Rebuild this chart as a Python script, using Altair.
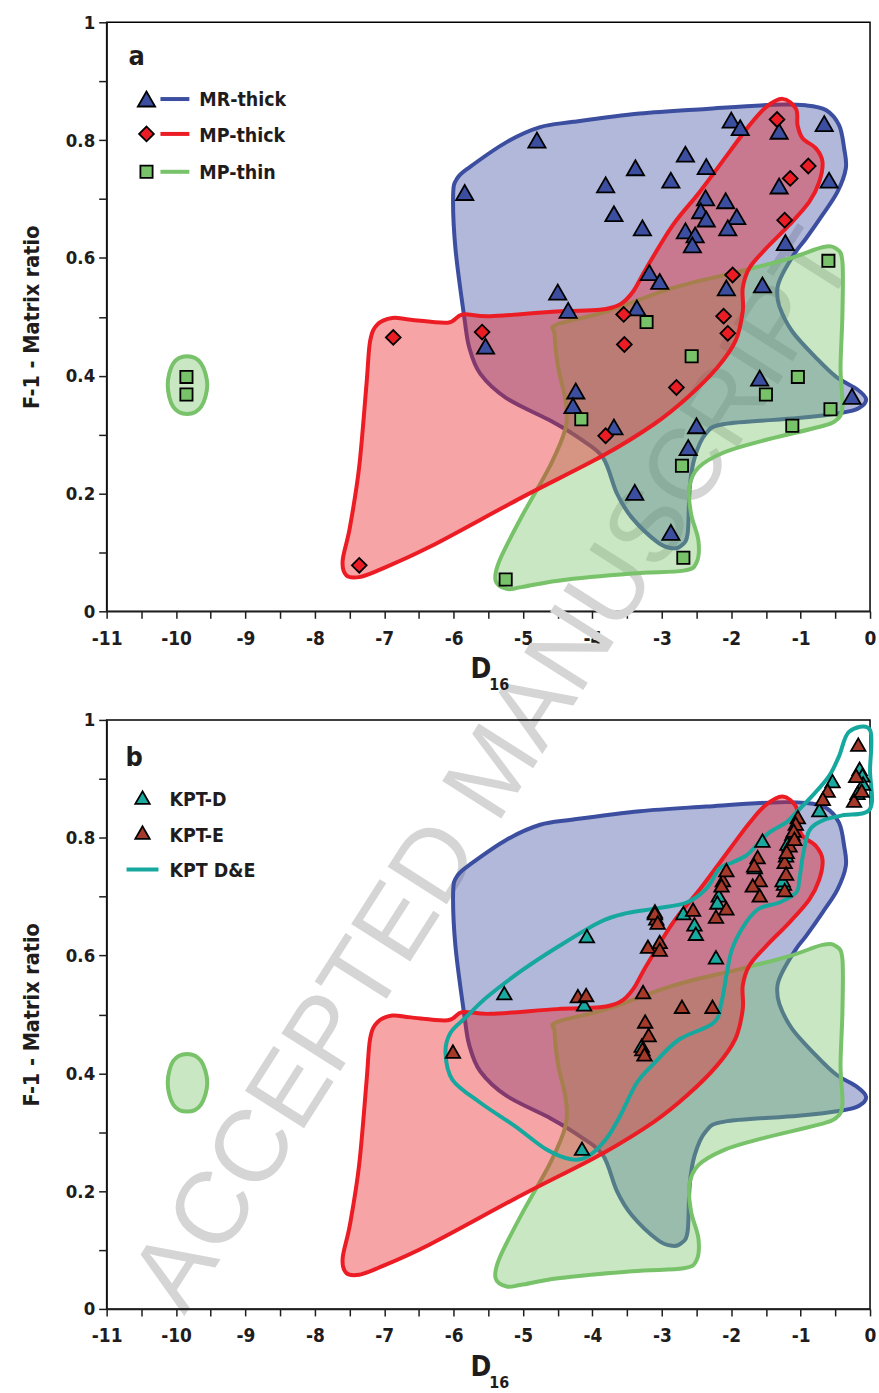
import math
import altair as alt
import pandas as pd

FONT = "'Liberation Sans Narrow', 'DejaVu Sans Condensed', 'Roboto Condensed', 'Liberation Sans', sans-serif"
INK = "#1f1c1d"

# ---------------- panel (a) samples ----------------
mr_thick_x = [-4.80, -5.84, -2.00, -1.87, -1.31, -0.66, -2.66, -2.36, -3.38, -2.87,
              -3.81, -1.31, -0.59, -3.69, -3.28, -2.37, -2.08, -2.44, -2.36, -1.92,
              -2.05, -2.66, -2.52, -2.56, -1.22, -3.18, -3.03, -1.55, -2.07, -4.50,
              -4.35, -3.36, -5.54, -4.24, -4.28, -3.69, -2.50, -2.62, -3.39, -2.87,
              -1.59, -0.26]
mr_thick_y = [0.800, 0.711, 0.834, 0.821, 0.815, 0.828, 0.776, 0.755, 0.753, 0.732,
              0.724, 0.722, 0.732, 0.675, 0.651, 0.702, 0.697, 0.680, 0.666, 0.670,
              0.651, 0.646, 0.639, 0.622, 0.626, 0.575, 0.560, 0.554, 0.549, 0.542,
              0.511, 0.515, 0.450, 0.374, 0.349, 0.313, 0.315, 0.278, 0.202, 0.134,
              0.396, 0.365]

mp_thick_x = [-1.34, -0.89, -1.15, -1.23, -1.98, -3.55, -2.11, -2.05, -3.54, -5.59,
              -6.87, -7.36, -3.81, -2.79]
mp_thick_y = [0.835, 0.756, 0.735, 0.664, 0.571, 0.504, 0.501, 0.472, 0.453, 0.474,
              0.465, 0.078, 0.298, 0.380]

mp_thin_x = [-0.60, -3.22, -2.57, -4.16, -1.04, -1.50, -0.57, -1.12, -2.71, -2.69,
             -5.25, -9.85, -9.85]
mp_thin_y = [0.595, 0.491, 0.433, 0.326, 0.398, 0.368, 0.343, 0.315, 0.247, 0.091,
             0.054, 0.398, 0.368]

# ---------------- panel (b) samples ----------------
kpt_d_x = [-5.27, -4.15, -4.08, -4.12, -3.29, -3.10, -2.69, -2.53, -2.51, -2.22,
           -2.18, -2.20, -1.55, -1.66, -1.21, -1.24, -1.12, -1.19, -1.26, -0.54,
           -0.73, -0.15, -0.11, -0.10, -0.18]
kpt_d_y = [0.536, 0.272, 0.633, 0.517, 0.447, 0.675, 0.672, 0.653, 0.637, 0.597,
           0.702, 0.690, 0.795, 0.750, 0.770, 0.722, 0.807, 0.790, 0.728, 0.896,
           0.847, 0.917, 0.906, 0.892, 0.876]

kpt_e_x = [-6.01, -4.21, -4.09, -3.27, -3.24, -3.19, -3.28, -3.25, -2.71, -2.27,
           -3.08, -3.10, -3.06, -3.20, -3.03, -3.03, -2.55, -2.12, -2.07, -2.14,
           -2.07, -2.22, -1.62, -1.67, -1.59, -1.69, -1.59, -1.04, -1.07, -1.10,
           -1.16, -1.23, -1.21, -1.23, -1.20, -1.09, -0.61, -0.68, -0.17, -0.23,
           -0.20, -0.12]
kpt_e_y = [0.437, 0.531, 0.533, 0.538, 0.488, 0.465, 0.441, 0.432, 0.513, 0.513,
           0.663, 0.672, 0.656, 0.615, 0.623, 0.610, 0.678, 0.728, 0.745, 0.719,
           0.680, 0.666, 0.767, 0.753, 0.728, 0.719, 0.702, 0.835, 0.824, 0.812,
           0.787, 0.759, 0.739, 0.711, 0.776, 0.798, 0.880, 0.866, 0.958, 0.863,
           0.905, 0.880]

# ---------------- field outlines (shared by both panels) ----------------
mr_hull_x = [-6.007, -5.949, -5.758, -5.231, -4.753, -4.275, -3.317, -2.359, -1.403, -0.923,
             -0.636, -0.445, -0.373, -0.349, -0.470, -0.685, -0.923, -1.067, -1.264, -1.335,
             -1.307, -1.120, -0.775, -0.488, -0.187, -0.057, -0.158, -0.402, -1.034, -2.096,
             -2.369, -2.527, -2.599, -2.628, -2.714, -2.843, -3.059, -3.432, -3.647, -3.848,
             -4.179, -4.595, -5.241, -5.615, -5.773, -5.844, -5.974]
mr_hull_y = [0.707, 0.735, 0.755, 0.797, 0.822, 0.831, 0.845, 0.853, 0.860, 0.859,
             0.851, 0.825, 0.786, 0.752, 0.712, 0.673, 0.633, 0.611, 0.572, 0.548,
             0.518, 0.475, 0.430, 0.398, 0.377, 0.360, 0.345, 0.337, 0.328, 0.318,
             0.301, 0.261, 0.210, 0.132, 0.112, 0.107, 0.117, 0.159, 0.200, 0.261,
             0.293, 0.323, 0.362, 0.403, 0.447, 0.497, 0.616]

mpk_hull_x = [-1.259, -1.067, -1.044, -0.972, -0.780, -0.685, -0.732, -0.876, -1.163, -1.498,
              -1.738, -1.834, -1.834, -1.939, -2.206, -2.631, -3.109, -3.853, -5.023, -6.351,
              -7.097, -7.362, -7.546, -7.599, -7.494, -7.362, -7.256, -7.203, -7.097, -6.883,
              -6.617, -6.086, -5.873, -5.471, -4.513, -3.891, -3.604, -3.413, -3.221, -2.839,
              -2.455, -2.025, -1.738, -1.498]
mpk_hull_y = [0.870, 0.853, 0.825, 0.803, 0.786, 0.763, 0.729, 0.695, 0.656, 0.616,
              0.583, 0.549, 0.509, 0.459, 0.413, 0.363, 0.318, 0.264, 0.193, 0.109,
              0.069, 0.058, 0.061, 0.086, 0.143, 0.244, 0.385, 0.459, 0.487, 0.498,
              0.495, 0.490, 0.504, 0.501, 0.509, 0.512, 0.521, 0.543, 0.583, 0.656,
              0.712, 0.780, 0.825, 0.856]

mpn_hull_x = [-4.513, -3.795, -2.839, -1.881, -1.163, -0.685, -0.493, -0.398, -0.398, -0.425,
              -0.398, -0.504, -0.770, -1.567, -2.099, -2.473, -2.605, -2.578, -2.473, -2.499,
              -2.685, -3.428, -4.492, -5.023, -5.236, -5.395, -5.340, -5.023, -4.598, -4.385,
              -4.385, -4.492, -4.545]
mpn_hull_y = [0.487, 0.509, 0.549, 0.577, 0.599, 0.618, 0.616, 0.594, 0.504, 0.413,
              0.346, 0.323, 0.312, 0.289, 0.270, 0.244, 0.210, 0.165, 0.120, 0.083,
              0.069, 0.064, 0.052, 0.041, 0.038, 0.052, 0.086, 0.160, 0.250, 0.312,
              0.357, 0.413, 0.470]

mpn_islet_x = [-9.84, -9.64, -9.55, -9.64, -9.84, -10.04, -10.12, -10.04]
mpn_islet_y = [0.433, 0.421, 0.384, 0.347, 0.335, 0.347, 0.384, 0.421]

kpt_hull_x = [-0.302, 0.0, 0.0, 0.0, -0.402, -0.689, -0.876, -0.962, -1.020, -1.063,
              -1.307, -1.594, -1.781, -1.982, -2.068, -2.140, -2.254, -2.757, -3.102, -3.360,
              -3.604, -3.805, -4.064, -4.308, -4.667, -5.112, -5.615, -6.017, -6.117, -6.045,
              -5.816, -5.514, -5.011, -4.509, -3.891, -3.504, -3.073, -2.642, -2.355, -2.168,
              -1.982, -1.781, -1.637, -1.450, -1.206, -1.063, -0.833, -0.589, -0.445]
kpt_hull_y = [0.980, 0.983, 0.914, 0.849, 0.838, 0.829, 0.812, 0.773, 0.728, 0.707,
              0.690, 0.680, 0.657, 0.613, 0.567, 0.521, 0.486, 0.457, 0.418, 0.384,
              0.327, 0.288, 0.259, 0.254, 0.271, 0.310, 0.350, 0.389, 0.435, 0.469,
              0.496, 0.530, 0.575, 0.614, 0.657, 0.672, 0.680, 0.690, 0.714, 0.748,
              0.758, 0.770, 0.787, 0.809, 0.826, 0.843, 0.871, 0.905, 0.939]

# tick positions and labels
x_ticks = [v / 2 for v in range(-22, 1)]
y_ticks = [round(v * 0.1, 1) for v in range(11)]

BLUE = "#3c4e9f"
RED = "#ec1c24"
GREEN = "#78c26a"
TEAL = "#16a89e"
D_FILL = "#1aa99f"
E_FILL = "#a5392a"

W, H = 766, 591
PANEL_GAP = 109

x_axis = alt.Axis(values=x_ticks, title=None, grid=False,
                  labelExpr="datum.value % 1 == 0 ? '' + datum.value : ''",
                  tickSize=7, tickWidth=1.5, tickColor=INK, domainColor=INK, domainWidth=1.5,
                  labelFont=FONT, labelFontSize=19, labelFontWeight="bold", labelColor=INK,
                  labelPadding=11, labelFlush=False, labelOverlap=False)
y_axis = alt.Axis(values=y_ticks, title="F-1 - Matrix ratio", grid=False,
                  labelExpr="round(datum.value * 10) % 2 == 0 ? '' + datum.value : ''",
                  tickSize=8, tickWidth=1.5, tickColor=INK, domainColor=INK, domainWidth=1.5,
                  labelFont=FONT, labelFontSize=18.5, labelFontWeight="bold", labelColor=INK,
                  labelPadding=4, labelFlush=False, labelOverlap=False,
                  titleFont=FONT, titleFontSize=21.5, titleFontWeight="bold", titleColor=INK,
                  titlePadding=22)

X_SCALE = alt.Scale(domain=[-11, 0], nice=False, zero=False)
Y_SCALE = alt.Scale(domain=[0, 1], nice=False, zero=False)


def xe():
    return alt.X("x:Q", scale=X_SCALE, axis=x_axis)


def ye():
    return alt.Y("y:Q", scale=Y_SCALE, axis=y_axis)


ONE = pd.DataFrame({"k": [0]})


def hull(xs, ys, color, filled=True):
    df = pd.DataFrame({"x": xs, "y": ys, "i": list(range(len(xs)))})
    props = dict(interpolate="cardinal-closed", stroke=color, strokeWidth=4, strokeJoin="round")
    if filled:
        props.update(fill=color, fillOpacity=0.4)
    return alt.Chart(df).mark_line(**props).encode(x=xe(), y=ye(), order=alt.Order("i:Q"))


def scatter(xs, ys, shape, color, size, sw=1.8):
    df = pd.DataFrame({"x": xs, "y": ys})
    return alt.Chart(df).mark_point(shape=shape, filled=True, fill=color, stroke="black",
                                    strokeWidth=sw, size=size, opacity=1).encode(x=xe(), y=ye())


def symbol(px, py, shape, color, size, sw=1.8):
    return alt.Chart(ONE).mark_point(shape=shape, filled=True, fill=color, stroke="black",
                                     strokeWidth=sw, size=size, opacity=1).encode(
        x=alt.value(px), y=alt.value(py))


def dash(x1, x2, py, color):
    return alt.Chart(ONE).mark_rule(stroke=color, strokeWidth=4).encode(
        x=alt.value(x1), x2=alt.value(x2), y=alt.value(py))


def label(px, py, text, size=19.5, font=FONT, weight="bold", color=INK, angle=0,
          align="left", baseline="alphabetic"):
    return alt.Chart(ONE).mark_text(text=text, font=font, fontSize=size, fontWeight=weight,
                                    color=color, angle=angle, align=align,
                                    baseline=baseline).encode(x=alt.value(px), y=alt.value(py))


def axis_title_x():
    return [label(365, 658, "D", size=28), label(384, 670, "16", size=16)]


# diagonal "ACCEPTED MANUSCRIPT" stamp, laid out glyph by glyph so that it can
# run across both panels; advances are Liberation Sans widths in em
STAMP = "ACCEPTED MANUSCRIPT"
STAMP_ADVANCE = {"A": 0.667, "C": 0.722, "E": 0.667, "P": 0.667, "T": 0.611, "D": 0.722,
                 " ": 0.278, "M": 0.833, "N": 0.722, "U": 0.722, "S": 0.667, "R": 0.722,
                 "I": 0.278}


def stamp_layers(x0, y0, size=102, tilt=57.5):
    ux, uy = math.cos(math.radians(tilt)), -math.sin(math.radians(tilt))
    layers, run, first = [], 0.0, None
    for ch in STAMP:
        adv = STAMP_ADVANCE[ch] * size
        centre = run + adv / 2
        run += adv
        if first is None:
            first = centre
        if ch == " ":
            continue
        d = centre - first
        layers.append(label(x0 + d * ux, y0 + d * uy, ch, size=size,
                            font="'Liberation Sans', Arial, sans-serif", weight="normal",
                            color="#d5d5d5", angle=360 - tilt, align="center",
                            baseline="middle"))
    return layers


panel_a = alt.layer(
    *stamp_layers(70, 1253),
    hull(mr_hull_x, mr_hull_y, BLUE),
    hull(mpn_hull_x, mpn_hull_y, GREEN),
    hull(mpn_islet_x, mpn_islet_y, GREEN),
    hull(mpk_hull_x, mpk_hull_y, RED),
    scatter(mr_thick_x, mr_thick_y, "triangle-up", BLUE, 300),
    scatter(mp_thick_x, mp_thick_y, "diamond", RED, 220),
    scatter(mp_thin_x, mp_thin_y, "square", GREEN, 150),
    label(22, 43, "a", size=27),
    symbol(40, 77, "triangle-up", BLUE, 300),
    dash(54, 83, 77, BLUE),
    label(93, 84, "MR-thick"),
    symbol(40, 112, "diamond", RED, 220),
    dash(54, 83, 112, RED),
    label(93, 120, "MP-thick"),
    symbol(40, 150, "square", GREEN, 150),
    dash(54, 83, 150, GREEN),
    label(93, 157, "MP-thin"),
    *axis_title_x(),
).properties(width=W, height=H)

panel_b = alt.layer(
    hull(mr_hull_x, mr_hull_y, BLUE),
    hull(mpn_hull_x, mpn_hull_y, GREEN),
    hull(mpn_islet_x, mpn_islet_y, GREEN),
    hull(mpk_hull_x, mpk_hull_y, RED),
    hull(kpt_hull_x, kpt_hull_y, TEAL, filled=False),
    scatter(kpt_d_x, kpt_d_y, "triangle-up", D_FILL, 210),
    scatter(kpt_e_x, kpt_e_y, "triangle-up", E_FILL, 210),
    label(19, 46, "b", size=27),
    symbol(36, 78, "triangle-up", D_FILL, 210),
    label(63, 86, "KPT-D"),
    symbol(36, 113, "triangle-up", E_FILL, 210),
    label(63, 122, "KPT-E"),
    dash(20, 52, 150, TEAL),
    label(63, 158, "KPT D&E"),
    *axis_title_x(),
).properties(width=W, height=H)

chart = alt.vconcat(panel_a, panel_b, spacing=PANEL_GAP, bounds="flush").properties(
    padding={"left": 20, "top": 10, "right": 2, "bottom": 2}
).configure_view(stroke="black", strokeWidth=1.5)

chart.save("out.html", embed_options={"renderer": "svg", "actions": False})
